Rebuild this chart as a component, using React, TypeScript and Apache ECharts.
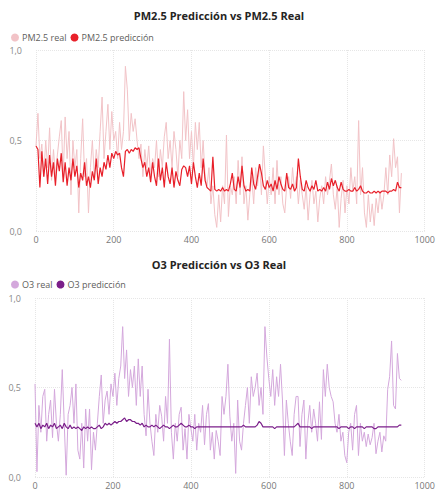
import React, { useEffect, useRef } from "react";
import * as echarts from "echarts";

// x step between consecutive readings (index units)
const STEP = 5;

const pm25Real = [
  0.47, 0.65, 0.40, 0.48, 0.30, 0.50, 0.35, 0.57, 0.28, 0.45, 0.30, 0.42, 0.52, 0.61, 0.30, 0.63, 0.40, 0.55, 0.20, 0.50,
  0.35, 0.45, 0.10, 0.40, 0.62, 0.30, 0.40, 0.10, 0.35, 0.50, 0.30, 0.45, 0.35, 0.55, 0.74, 0.40, 0.55, 0.70, 0.45, 0.66,
  0.50, 0.55, 0.40, 0.60, 0.45, 0.55, 0.91, 0.78, 0.50, 0.65, 0.55, 0.62, 0.50, 0.40, 0.48, 0.30, 0.45, 0.35, 0.47, 0.30,
  0.40, 0.35, 0.50, 0.30, 0.45, 0.35, 0.52, 0.60, 0.40, 0.50, 0.35, 0.55, 0.45, 0.30, 0.50, 0.40, 0.77, 0.50, 0.67, 0.40,
  0.55, 0.35, 0.60, 0.45, 0.60, 0.35, 0.50, 0.30, 0.25, 0.35, 0.15, 0.25, 0.09, 0.02, 0.20, 0.05, 0.25, 0.15, 0.53, 0.08,
  0.25, 0.20, 0.30, 0.15, 0.39, 0.20, 0.41, 0.15, 0.25, 0.06, 0.20, 0.30, 0.15, 0.35, 0.25, 0.37, 0.20, 0.47, 0.30, 0.15,
  0.30, 0.20, 0.35, 0.15, 0.39, 0.20, 0.30, 0.15, 0.10, 0.25, 0.30, 0.18, 0.35, 0.22, 0.30, 0.15, 0.28, 0.20, 0.12, 0.25,
  0.06, 0.20, 0.28, 0.15, 0.22, 0.05, 0.18, 0.25, 0.15, 0.30, 0.20, 0.28, 0.37, 0.20, 0.12, 0.25, 0.02, 0.18, 0.28, 0.10,
  0.25, 0.15, 0.35, 0.22, 0.30, 0.15, 0.61, 0.20, 0.35, 0.10, 0.02, 0.20, 0.05, 0.15, 0.03, 0.18, 0.10, 0.22, 0.12, 0.20,
  0.35, 0.20, 0.42, 0.30, 0.51, 0.35, 0.41, 0.10, 0.32,
];

const pm25Pred = [
  0.47, 0.45, 0.24, 0.44, 0.30, 0.40, 0.26, 0.42, 0.30, 0.38, 0.25, 0.40, 0.33, 0.43, 0.27, 0.38, 0.25, 0.35, 0.28, 0.40,
  0.30, 0.36, 0.24, 0.32, 0.28, 0.38, 0.25, 0.30, 0.24, 0.33, 0.28, 0.40, 0.26, 0.35, 0.30, 0.38, 0.34, 0.42, 0.35, 0.43,
  0.40, 0.44, 0.42, 0.43, 0.35, 0.30, 0.44, 0.45, 0.43, 0.45, 0.44, 0.46, 0.45, 0.46, 0.40, 0.35, 0.38, 0.30, 0.35, 0.27,
  0.38, 0.30, 0.25, 0.40, 0.28, 0.35, 0.24, 0.38, 0.30, 0.26, 0.35, 0.24, 0.33, 0.28, 0.25, 0.34, 0.36, 0.35, 0.30, 0.36,
  0.26, 0.38, 0.30, 0.24, 0.32, 0.25, 0.40, 0.28, 0.24, 0.23, 0.22, 0.41, 0.23, 0.22, 0.23, 0.22, 0.24, 0.22, 0.23, 0.22,
  0.26, 0.32, 0.23, 0.22, 0.30, 0.24, 0.36, 0.25, 0.22, 0.23, 0.22, 0.35, 0.26, 0.23, 0.30, 0.37, 0.32, 0.25, 0.23, 0.28,
  0.24, 0.26, 0.22, 0.28, 0.23, 0.30, 0.26, 0.23, 0.22, 0.32, 0.24, 0.23, 0.26, 0.22, 0.24, 0.40, 0.30, 0.23, 0.22, 0.28,
  0.24, 0.22, 0.25, 0.23, 0.28, 0.22, 0.23, 0.22, 0.24, 0.22, 0.27, 0.23, 0.29, 0.25, 0.28, 0.24, 0.22, 0.27, 0.23, 0.22,
  0.22, 0.23, 0.22, 0.22, 0.24, 0.22, 0.23, 0.25, 0.22, 0.21, 0.21, 0.22, 0.21, 0.21, 0.22, 0.21, 0.22, 0.21, 0.22, 0.22,
  0.22, 0.21, 0.22, 0.22, 0.23, 0.22, 0.27, 0.24, 0.24,
];

const o3Real = [
  0.52, 0.03, 0.40, 0.25, 0.45, 0.49, 0.20, 0.35, 0.43, 0.22, 0.49, 0.30, 0.20, 0.35, 0.60, 0.30, 0.01, 0.35, 0.40, 0.50,
  0.30, 0.52, 0.15, 0.10, 0.30, 0.05, 0.38, 0.20, 0.38, 0.04, 0.25, 0.15, 0.30, 0.45, 0.57, 0.30, 0.43, 0.48, 0.35, 0.52,
  0.45, 0.58, 0.40, 0.55, 0.62, 0.84, 0.55, 0.71, 0.45, 0.60, 0.50, 0.62, 0.40, 0.66, 0.45, 0.62, 0.35, 0.23, 0.49, 0.30,
  0.20, 0.12, 0.35, 0.25, 0.40, 0.34, 0.20, 0.45, 0.30, 0.77, 0.25, 0.10, 0.30, 0.20, 0.35, 0.39, 0.15, 0.27, 0.10, 0.35,
  0.27, 0.20, 0.35, 0.15, 0.30, 0.25, 0.40, 0.18, 0.35, 0.41, 0.15, 0.25, 0.10, 0.26, 0.20, 0.12, 0.45, 0.35, 0.45, 0.63,
  0.34, 0.20, 0.30, 0.02, 0.43, 0.20, 0.15, 0.30, 0.40, 0.50, 0.30, 0.56, 0.45, 0.50, 0.58, 0.40, 0.50, 0.35, 0.84, 0.67,
  0.55, 0.45, 0.60, 0.40, 0.56, 0.45, 0.63, 0.43, 0.12, 0.43, 0.30, 0.20, 0.12, 0.35, 0.45, 0.45, 0.17, 0.35, 0.43, 0.10,
  0.30, 0.40, 0.25, 0.38, 0.30, 0.20, 0.42, 0.21, 0.60, 0.45, 0.63, 0.50, 0.45, 0.42, 0.30, 0.25, 0.35, 0.20, 0.25, 0.12,
  0.08, 0.25, 0.30, 0.15, 0.35, 0.40, 0.12, 0.30, 0.20, 0.25, 0.17, 0.24, 0.18, 0.22, 0.30, 0.13, 0.20, 0.25, 0.14, 0.23,
  0.20, 0.49, 0.56, 0.76, 0.40, 0.38, 0.69, 0.55, 0.54,
];

const o3Pred = [
  0.30, 0.28, 0.30, 0.27, 0.29, 0.28, 0.30, 0.27, 0.29, 0.28, 0.30, 0.27, 0.28, 0.29, 0.27, 0.30, 0.28, 0.27, 0.29, 0.27,
  0.28, 0.27, 0.28, 0.27, 0.26, 0.28, 0.27, 0.28, 0.27, 0.28, 0.27, 0.27, 0.28, 0.29, 0.27, 0.28, 0.30, 0.29, 0.30, 0.29,
  0.30, 0.31, 0.30, 0.31, 0.31, 0.32, 0.33, 0.31, 0.32, 0.32, 0.31, 0.31, 0.30, 0.30, 0.29, 0.30, 0.28, 0.29, 0.28, 0.28,
  0.29, 0.28, 0.29, 0.28, 0.27, 0.28, 0.29, 0.28, 0.28, 0.27, 0.28, 0.29, 0.28, 0.28, 0.29, 0.30, 0.29, 0.28, 0.28, 0.29,
  0.28, 0.28, 0.27, 0.28, 0.28, 0.28, 0.28, 0.28, 0.28, 0.28, 0.28, 0.28, 0.28, 0.28, 0.28, 0.28, 0.28, 0.28, 0.28, 0.28,
  0.28, 0.28, 0.28, 0.28, 0.28, 0.28, 0.28, 0.29, 0.28, 0.28, 0.28, 0.28, 0.28, 0.28, 0.29, 0.31, 0.30, 0.28, 0.28, 0.28,
  0.28, 0.28, 0.28, 0.27, 0.28, 0.28, 0.28, 0.28, 0.28, 0.28, 0.28, 0.28, 0.28, 0.28, 0.29, 0.30, 0.28, 0.28, 0.28, 0.28,
  0.28, 0.28, 0.27, 0.28, 0.28, 0.28, 0.28, 0.28, 0.28, 0.28, 0.28, 0.28, 0.28, 0.28, 0.28, 0.28, 0.27, 0.28, 0.28, 0.28,
  0.28, 0.27, 0.28, 0.28, 0.27, 0.28, 0.28, 0.28, 0.28, 0.27, 0.28, 0.28, 0.28, 0.28, 0.27, 0.27, 0.28, 0.28, 0.28, 0.28,
  0.28, 0.28, 0.28, 0.28, 0.28, 0.28, 0.28, 0.29, 0.29,
];

const xTicks = { min: 0, max: 1000, interval: 200 };
const yTicks = { min: 0, max: 1, interval: 0.5 };

const FONT = "'Segoe UI', 'Open Sans', sans-serif";

function pairs(vals: number[]) {
  return vals.map((v, i) => [i * STEP, v]);
}

export default function App() {
  const ref = useRef<HTMLDivElement>(null);
  useEffect(() => {
    document.body.style.margin = "0";
    const chart = echarts.init(ref.current!, null, { renderer: "svg" });
    const splitLine = { show: true, lineStyle: { color: "#e6e6e6", type: "dotted" as const, width: 1 } };
    const xAxisBase = (gridIndex: number) => ({
      type: "value" as const,
      gridIndex,
      ...xTicks,
      axisLine: { show: false },
      axisTick: { show: false },
      splitLine,
      axisLabel: {
        color: "#777",
        fontSize: 9,
        fontFamily: FONT,
        margin: 4,
        formatter: (v: number) => String(v),
      },
    });
    const yAxisBase = (gridIndex: number) => ({
      type: "value" as const,
      gridIndex,
      ...yTicks,
      axisLine: { show: false },
      axisTick: { show: false },
      splitLine,
      axisLabel: {
        color: "#888",
        fontSize: 9,
        fontFamily: FONT,
        margin: 14,
        formatter: (v: number) => v.toFixed(1).replace(".", ","),
      },
    });
    const legendBase = {
      left: 6,
      icon: "circle",
      itemWidth: 8,
      itemHeight: 8,
      itemGap: 4,
      textStyle: { color: "#605e5c", fontSize: 9, fontFamily: FONT, padding: [0, 0, 0, -2] },
    };
    chart.setOption({
      animation: false,
      title: [
        {
          text: "PM2.5 Predicción vs PM2.5 Real",
          left: "center",
          top: 5,
          textStyle: { fontSize: 11, fontWeight: "bold", color: "#252423", fontFamily: FONT },
        },
        {
          text: "O3 Predicción vs O3 Real",
          left: "center",
          top: 254,
          textStyle: { fontSize: 11, fontWeight: "bold", color: "#252423", fontFamily: FONT },
        },
      ],
      legend: [
        { ...legendBase, top: 28, data: ["PM2.5 real", "PM2.5 predicción"] },
        { ...legendBase, top: 275, data: ["O3 real", "O3 predicción"] },
      ],
      grid: [
        { left: 36, right: 10, top: 50, height: 181 },
        { left: 35, right: 10, top: 298, height: 179 },
      ],
      xAxis: [xAxisBase(0), xAxisBase(1)],
      yAxis: [yAxisBase(0), yAxisBase(1)],
      series: [
        {
          name: "PM2.5 real",
          type: "line",
          xAxisIndex: 0,
          yAxisIndex: 0,
          data: pairs(pm25Real),
          showSymbol: false,
          itemStyle: { color: "#f2c3c7" },
          lineStyle: { width: 1, color: "#f2c3c7" },
        },
        {
          name: "PM2.5 predicción",
          type: "line",
          xAxisIndex: 0,
          yAxisIndex: 0,
          data: pairs(pm25Pred),
          showSymbol: false,
          itemStyle: { color: "#e8202a" },
          lineStyle: { width: 1.2, color: "#e8202a" },
        },
        {
          name: "O3 real",
          type: "line",
          xAxisIndex: 1,
          yAxisIndex: 1,
          data: pairs(o3Real),
          showSymbol: false,
          itemStyle: { color: "#d4a8dc" },
          lineStyle: { width: 1, color: "#d4a8dc" },
        },
        {
          name: "O3 predicción",
          type: "line",
          xAxisIndex: 1,
          yAxisIndex: 1,
          data: pairs(o3Pred),
          showSymbol: false,
          itemStyle: { color: "#7b1f8a" },
          lineStyle: { width: 1.2, color: "#7b1f8a" },
        },
      ],
    });
    return () => chart.dispose();
  }, []);
  return <div ref={ref} style={{ position: "absolute", left: 0, top: 0, width: 438, height: 491 }} />;
}
